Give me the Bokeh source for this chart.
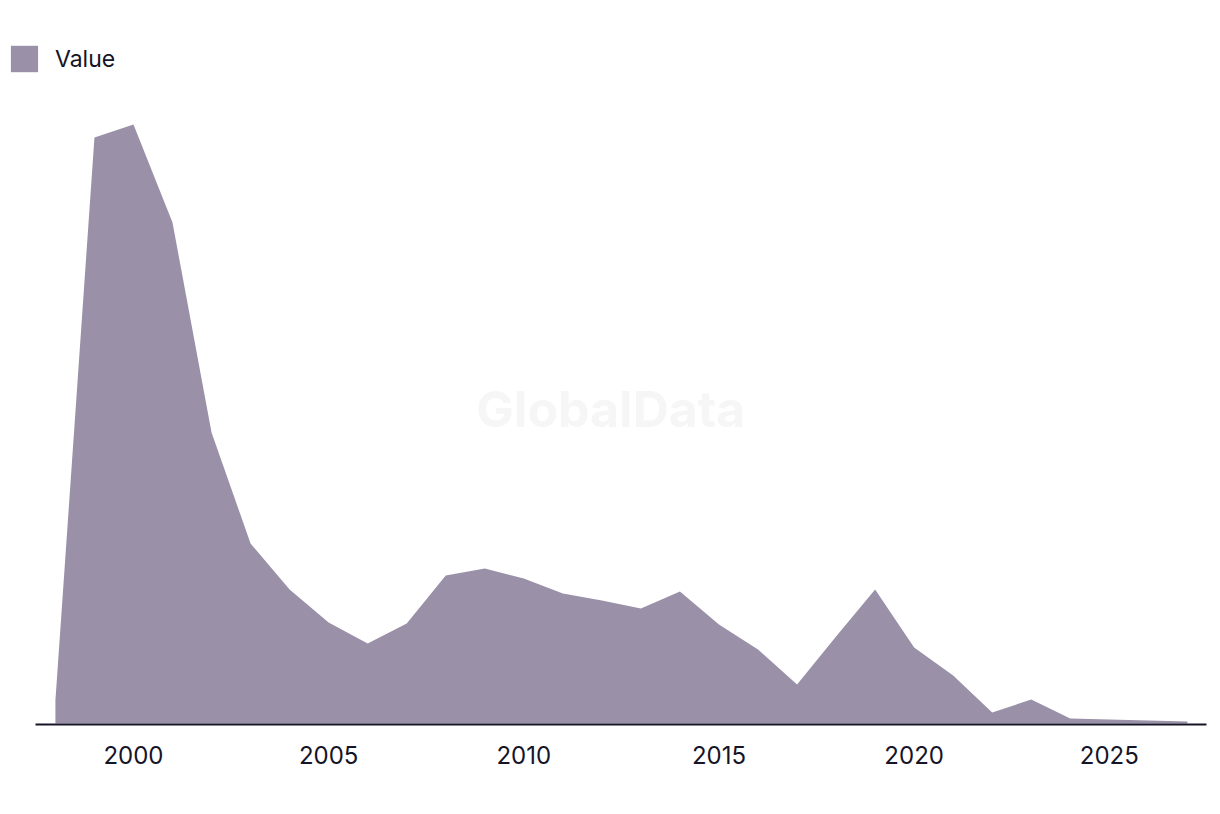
from bokeh.plotting import figure
from bokeh.models import ColumnDataSource, Legend, LegendItem, Label, FixedTicker, Range1d
from bokeh.embed import file_html
from bokeh.resources import INLINE

years = list(range(1998, 2028))
values = [2.3, 58.6, 59.9, 50.1, 29.1, 18.0, 13.4, 10.1, 8.0, 10.0,
          14.8, 15.5, 14.5, 13.0, 12.3, 11.5, 13.2, 9.9, 7.4, 3.9,
          8.7, 13.4, 7.6, 4.8, 1.1, 2.4, 0.5, 0.4, 0.3, 0.2]
tick_years = [2000, 2005, 2010, 2015, 2020, 2025]
series_name = "Value"

FILL = "#9a91a9"
DARK = "#161427"

PX_PER_YEAR = 39.03
X0 = 1997.49 - 35 / PX_PER_YEAR
X1 = 2027.49 + 14 / PX_PER_YEAR

src = ColumnDataSource(dict(year=years, value=values, base=[0] * len(years)))

p = figure(width=1220, height=814, output_backend="svg", toolbar_location=None,
           x_range=Range1d(X0, X1), y_range=Range1d(-0.4, 72.3),
           min_border_left=0, min_border_right=0, min_border_top=0,
           min_border_bottom=87)
p.background_fill_color = "white"
p.border_fill_color = "white"
p.outline_line_color = None
p.grid.visible = False
p.yaxis.visible = False

wm = Label(x=2012.23, y=31.5, text="GlobalData", text_font="Inter", text_font_style="bold",
           text_font_size="50px", text_color="#f6f6f6", text_align="center",
           text_baseline="middle", level="underlay")
p.add_layout(wm)

area = p.varea(x="year", y1="base", y2="value", source=src, fill_color=FILL, fill_alpha=1.0)

# baseline (axis line) spanning the original plot area
p.segment(x0=[1997.49], y0=[-0.1], x1=[2027.49], y1=[-0.1], line_color=DARK, line_width=2)

xa = p.xaxis[0]
xa.ticker = FixedTicker(ticks=tick_years)
xa.axis_line_color = None
xa.major_tick_line_color = None
xa.minor_tick_line_color = None
xa.major_label_text_font = "Inter"
xa.major_label_text_font_size = "24px"
xa.major_label_text_color = DARK
xa.major_label_standoff = 12

legend = Legend(items=[LegendItem(label=series_name, renderers=[area])],
                location=(7, 727 - 75), orientation="horizontal",
                glyph_width=34, glyph_height=33, label_standoff=14,
                label_text_font="Inter", label_text_font_size="23px",
                label_text_color=DARK, border_line_color=None,
                background_fill_alpha=0, padding=0, margin=0, spacing=0)
p.add_layout(legend)

open("out.html", "w").write(file_html(p, INLINE))
